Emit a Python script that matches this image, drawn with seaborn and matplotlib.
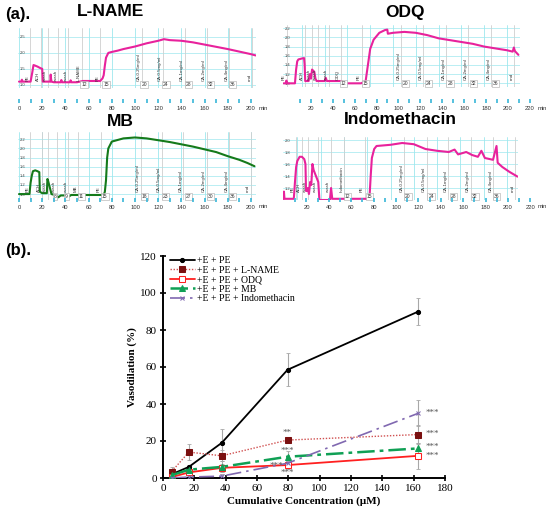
import numpy as np
import pandas as pd
import seaborn as sns
import matplotlib.pyplot as plt

sns.set_theme(style="ticks")
plt.rcParams['font.family'] = ['Liberation Sans', 'DejaVu Sans']
plt.rcParams['text.color'] = 'black'

W, H = 550, 507

# ---------------- panel (a): tension recordings ----------------
lname_t = [0, 2, 2.5, 3, 6, 8, 10, 11.5, 12.5, 14, 16, 18, 20, 20.5, 22, 27, 27.3, 27.6, 28, 30,
           36, 36.5, 37, 44, 44.5, 45, 50, 55, 70, 72, 73, 74, 75, 77, 80, 85, 90, 100, 110, 120,
           125, 130, 140, 150, 160, 170, 180, 190, 200, 204]
lname_v = [1.10, 1.10, 1.16, 1.10, 1.10, 1.10, 1.10, 1.40, 1.62, 1.60, 1.57, 1.53, 1.50, 1.10, 1.10,
           1.10, 1.32, 1.20, 1.10, 1.08, 1.08, 1.15, 1.08, 1.08, 1.14, 1.08, 1.08, 1.12, 1.12, 1.20,
           1.30, 1.60, 1.85, 2.00, 2.03, 2.07, 2.12, 2.20, 2.30, 2.38, 2.43, 2.40, 2.38, 2.33, 2.26,
           2.19, 2.12, 2.04, 1.96, 1.92]

odq_t = [4, 6, 6.5, 7, 10, 14, 15, 16, 17, 20, 22, 22.5, 23, 26, 27, 28, 29, 31, 32, 33, 38, 40,
         41, 42, 48, 55, 56, 72, 76, 78, 80, 83, 88, 93, 95, 95.5, 100, 110, 120, 130, 140, 150,
         160, 170, 180, 190, 200, 205, 206, 207, 210]
odq_v = [1.00, 1.00, 1.06, 1.00, 1.00, 1.00, 1.30, 1.48, 1.52, 1.54, 1.55, 1.40, 1.05, 1.05, 1.20,
         1.10, 1.30, 1.25, 1.10, 1.05, 1.05, 1.05, 1.12, 1.05, 1.05, 1.05, 1.00, 1.00, 1.05, 1.40,
         1.75, 1.95, 2.10, 2.16, 2.17, 2.08, 2.10, 2.12, 2.10, 2.05, 1.98, 1.94, 1.90, 1.86, 1.80,
         1.76, 1.72, 1.69, 1.78, 1.70, 1.62]

mb_t = [0, 9, 10, 11, 12, 14, 16, 17.5, 18, 20, 24, 24.5, 25, 26, 27, 28, 32, 34, 36, 40, 42, 45,
        50, 73, 74, 75, 76, 77, 80, 90, 100, 110, 120, 130, 140, 150, 160, 170, 180, 190, 197, 203]
mb_v = [1.00, 1.00, 1.25, 1.40, 1.50, 1.52, 1.50, 1.48, 1.05, 1.02, 1.02, 1.33, 1.30, 1.20, 1.10,
        1.00, 0.97, 0.93, 0.97, 0.97, 0.93, 0.98, 0.98, 0.98, 1.05, 1.30, 1.80, 2.00, 2.15, 2.22,
        2.24, 2.22, 2.18, 2.14, 2.09, 2.04, 1.98, 1.92, 1.83, 1.75, 1.68, 1.61]

indo_t = [8, 8.5, 9, 12, 17, 18, 19, 20, 22, 24, 26, 27, 27.5, 28, 29, 30, 31, 32, 33, 34, 35, 36,
          37, 38, 39, 45, 48, 49, 50, 52, 80, 82, 83, 84, 86, 88, 100, 110, 120, 130, 140, 150,
          155, 158, 165, 170, 175, 178, 181, 188, 191, 192, 196, 202, 209]
indo_v = [1.02, 1.14, 1.02, 1.02, 1.02, 1.30, 1.55, 1.65, 1.72, 1.72, 1.68, 1.60, 1.15, 1.15, 1.20,
          1.10, 1.30, 1.25, 1.60, 1.50, 1.45, 1.40, 1.35, 1.30, 1.00, 1.00, 1.00, 1.20, 1.02, 1.02,
          1.02, 1.05, 1.40, 1.70, 1.85, 1.90, 1.92, 1.95, 1.93, 1.85, 1.82, 1.80, 1.84, 1.76, 1.80,
          1.75, 1.72, 1.82, 1.70, 1.67, 1.90, 1.62, 1.55, 1.47, 1.39]

ca_labels = ["CA-0.25mg/ml", "CA-0.5mg/ml", "CA-1mg/ml", "CA-2mg/ml", "CA-4mg/ml", "end"]

lname_ev_t = [9.5, 18.7, 25, 34, 42.6, 54, 70, 105.7, 124, 143, 162, 181, 201]
lname_ev = ["PE", "ACH", "wash", "wash", "wash", "L-NAME", "PE"] + ca_labels
lname_box_t = [56, 75, 108, 126.5, 146, 165, 184]
lname_box = ["12", "15", "20", "24", "28", "32", "36"]

odq_ev_t = [6.7, 22.8, 28.7, 33.9, 43.9, 54, 72.5, 107, 126.6, 146.5, 166, 186, 206.4]
odq_ev = ["PE", "ACH", "wash", "wash", "wash", "ODQ", "PE"] + ca_labels
odq_box_t = [56.4, 76, 111, 131, 150, 170.5, 190]
odq_box = ["12", "15", "20", "24", "28", "32", "36"]

mb_ev_t = [9.5, 19.5, 25, 32.5, 42.5, 51, 71, 105, 123, 141.7, 162, 181, 200]
mb_ev = ["PE", "ACH", "wash", "wash", "wash", "MB", "PE"] + ca_labels
mb_box_t = [31, 41, 54, 74, 108, 126.5, 146, 165, 184]
mb_box = ["8", "9", "11", "15", "18", "23", "27", "30", "36"]

indo_ev_t = [18.5, 23.7, 29, 37.8, 49, 60, 78, 112, 131, 149.6, 169, 188, 207]
indo_ev = ["PE", "ACH", "wash", "wash", "wash", "Indomethacin", "PE"] + ca_labels
indo_box_t = [63, 82, 115, 135, 154, 172.5, 191]
indo_box = ["12", "15", "20", "24", "28", "32", "36"]


def rect(x0, y0, x1, y1):
    return [x0 / W, 1 - y1 / H, (x1 - x0) / W, (y1 - y0) / H]


def px_to_min(px, zero_px, px_per_min):
    return (px - zero_px) / px_per_min


fig = plt.figure(figsize=(W / 100, H / 100), dpi=100)


def trace(t, v, color, box, zero_px, ppm, ylim, yticks, ev_t, ev, box_t, box_lab,
          strip_y, strip_x1, tick_lo, tick_hi, title, title_xy):
    x0, y0, x1, y1 = box
    xlim = (px_to_min(x0, zero_px, ppm), px_to_min(x1, zero_px, ppm))
    ax = fig.add_axes(rect(x0, y0, x1, y1))
    for yt in yticks:
        ax.axhline(yt, color="#9ee8ee", lw=0.5, zorder=0)
    for g in range(0, 230, 20):
        ax.axvline(g, color="#9ee8ee", lw=0.6, zorder=0)
    for et in ev_t:
        ax.axvline(et, color="#cfcfcf", lw=0.6, zorder=0)
    span = ylim[1] - ylim[0]
    for et, lab in zip(ev_t, ev):
        ax.text(et - 0.6, ylim[0] + 0.12 * span, lab, rotation=90, fontsize=3.2,
                ha="right", va="bottom", color="#333333")
    for bt, lab in zip(box_t, box_lab):
        ax.text(bt, ylim[0] + 0.02 * span, lab, fontsize=3.6, ha="center", va="bottom",
                color="#333333",
                bbox=dict(boxstyle="square,pad=0.2", fc="white", ec="#aaaaaa", lw=0.4))
    sns.lineplot(x=t, y=v, ax=ax, color=color, lw=1.5, estimator=None, sort=False)
    ax.set_xlim(*xlim)
    ax.set_ylim(*ylim)
    ax.set_xticks([])
    ax.set_yticks(yticks)
    ax.set_yticklabels([f"{y:.1f}" for y in yticks])
    ax.tick_params(axis="y", direction="in", length=0, pad=-5.5, labelsize=3, labelcolor="#444444")
    for s in ax.spines.values():
        s.set_visible(False)
    # time strip
    sx = fig.add_axes(rect(zero_px + tick_lo * ppm - 2, strip_y, strip_x1, strip_y + 3))
    sx.set_xlim(px_to_min(zero_px + tick_lo * ppm - 2, zero_px, ppm),
                px_to_min(strip_x1, zero_px, ppm))
    sx.set_yticks([])
    sx.set_xticks(range(tick_lo, tick_hi + 1, 20))
    sx.set_xticks(range(tick_lo - 10 if tick_lo >= 10 else tick_lo, tick_hi + 1, 10), minor=True)
    sx.tick_params(axis="x", which="both", direction="in", length=3, width=1.2, color="#38b6d8",
                   labelsize=4.2, pad=2, labelcolor="#333333")
    for s in sx.spines.values():
        s.set_visible(False)
    sx.patch.set_alpha(0)
    fig.text((strip_x1 + 5) / W, 1 - (strip_y + 8) / H, "min", fontsize=4.2, color="#333333",
             va="center")
    fig.text(title_xy[0] / W, 1 - title_xy[1] / H, title, fontsize=12.5, fontweight="bold",
             ha="center", va="center", color="black")


trace(lname_t, lname_v, "#e8229c", (18, 28, 256, 88), 19, 1.16, (0.90, 2.78),
      [1.0, 1.5, 2.0, 2.5], lname_ev_t, lname_ev, lname_box_t, lname_box,
      100, 254, 0, 200, "L-NAME", (110, 12))
trace(odq_t, odq_v, "#e8229c", (283, 25, 520, 87), 279, 1.14, (0.92, 2.27),
      [1.0, 1.2, 1.4, 1.6, 1.8, 2.0, 2.2], odq_ev_t, odq_ev, odq_box_t, odq_box,
      100, 533, 20, 220, "ODQ", (405, 12))
trace(mb_t, mb_v, "#157a1a", (18, 132, 256, 200), 19, 1.16, (0.87, 2.36),
      [1.0, 1.2, 1.4, 1.6, 1.8, 2.0, 2.2], mb_ev_t, mb_ev, mb_box_t, mb_box,
      199, 254, 0, 200, "MB", (120, 122))
trace(indo_t, indo_v, "#e8229c", (283, 137, 518, 200), 274, 1.165, (1.0, 2.05),
      [1.2, 1.4, 1.6, 1.8, 2.0], indo_ev_t, indo_ev, indo_box_t, indo_box,
      199, 533, 20, 220, "Indomethacin", (400, 120))

fig.text(5 / W, 1 - 14 / H, "(a).", fontsize=12, fontweight="bold", va="center", color="black")
fig.text(5 / W, 1 - 250 / H, "(b).", fontsize=12, fontweight="bold", va="center", color="black")

# ---------------- panel (b): concentration-response ----------------
conc = [5.5, 16.5, 37.5, 79.5, 163]
pe = [2, 6, 19, 58.5, 90]
pe_err = [1, 1, 7.5, 9, 7.5]
lname = [3.5, 14, 12, 20.5, 23.5]
lname_err = [2.5, 4.5, 3, 1.5, 5]
odq = [0.5, 3, 5.5, 7, 12]
odq_err = [0.5, 1.5, 2, 2, 7]
mb = [1.5, 4.5, 6, 11.5, 16]
mb_err = [1, 2, 3, 3, 3]
indo = [0, 0.5, 1, 8, 35]
indo_err = [0.5, 0.5, 1, 2, 7]
series_names = ["+E + PE", "+E + PE + L-NAME", "+E + PE + ODQ", "+E + PE + MB",
                "+E + PE + Indomethacin"]

stars_x = [79.5, 79.5, 72.5, 79.5, 172, 172, 172, 172]
stars_y = [24.5, 14.8, 6.5, 2.7, 35, 23.8, 16.6, 11.8]
stars = ["**", "***", "***", "***", "***", "***", "***", "***"]

serif = ["Liberation Serif", "DejaVu Serif"]
ax = fig.add_axes(rect(163, 256, 445, 478))

for vals, err in [(pe, pe_err), (lname, lname_err), (odq, odq_err), (mb, mb_err), (indo, indo_err)]:
    ax.errorbar(conc, vals, yerr=err, fmt="none", ecolor="#a8a8a8", elinewidth=0.8,
                capsize=1.5, capthick=0.6, zorder=1)

styles = [
    dict(color="black", linestyle="-", lw=1.3, marker="o", ms=3, mfc="black", mec="black"),
    dict(color="#d05050", linestyle=(0, (1, 1.2)), lw=1.0, marker="s", ms=4, mfc="#7a1010",
         mec="#7a1010"),
    dict(color="#ff2020", linestyle="-", lw=1.3, marker="s", ms=4, mfc="white", mec="#ff2020"),
    dict(color="#10a055", linestyle=(0, (7, 2, 1.5, 2)), lw=1.8, marker="^", ms=4,
         mfc="#10a055", mec="#10a055"),
    dict(color="#8068b0", linestyle=(0, (9, 3, 1.5, 3)), lw=1.2, marker="x", ms=3.5,
         mec="#8068b0"),
]
for vals, name, st in zip([pe, lname, odq, mb, indo], series_names, styles):
    sns.lineplot(x=conc, y=vals, ax=ax, label=name, zorder=3, **st)

for sx_, sy_, s in zip(stars_x, stars_y, stars):
    ax.text(sx_, sy_, s, color="#555555", fontsize=6.5, ha="center", va="center", family=serif)

ax.set_xlim(0, 180)
ax.set_ylim(0, 120)
ax.set_xticks(range(0, 181, 20))
ax.set_yticks(range(0, 121, 20))
ax.tick_params(direction="inout", length=5, width=1.2, labelsize=8, pad=2, colors="black")
for lab in ax.get_xticklabels() + ax.get_yticklabels():
    lab.set_family(serif)
ax.spines["top"].set_visible(False)
ax.spines["right"].set_visible(False)
ax.spines["left"].set_linewidth(1.4)
ax.spines["bottom"].set_linewidth(1.4)
ax.spines["left"].set_color("black")
ax.spines["bottom"].set_color("black")
ax.set_xlabel("Cumulative Concentration (μM)", fontsize=8, fontweight="bold", family=serif,
              labelpad=2, color="black")
ax.set_ylabel("Vasodilation (%)", fontsize=8, fontweight="bold", family=serif, labelpad=2,
              color="black")
ax.legend(loc="upper left", bbox_to_anchor=(0.0, 1.03), frameon=False,
          prop=dict(family=serif, size=7), handlelength=2.6, labelspacing=0.05,
          handletextpad=0.2, borderaxespad=0.3)

fig.savefig("out.png", dpi=100)
